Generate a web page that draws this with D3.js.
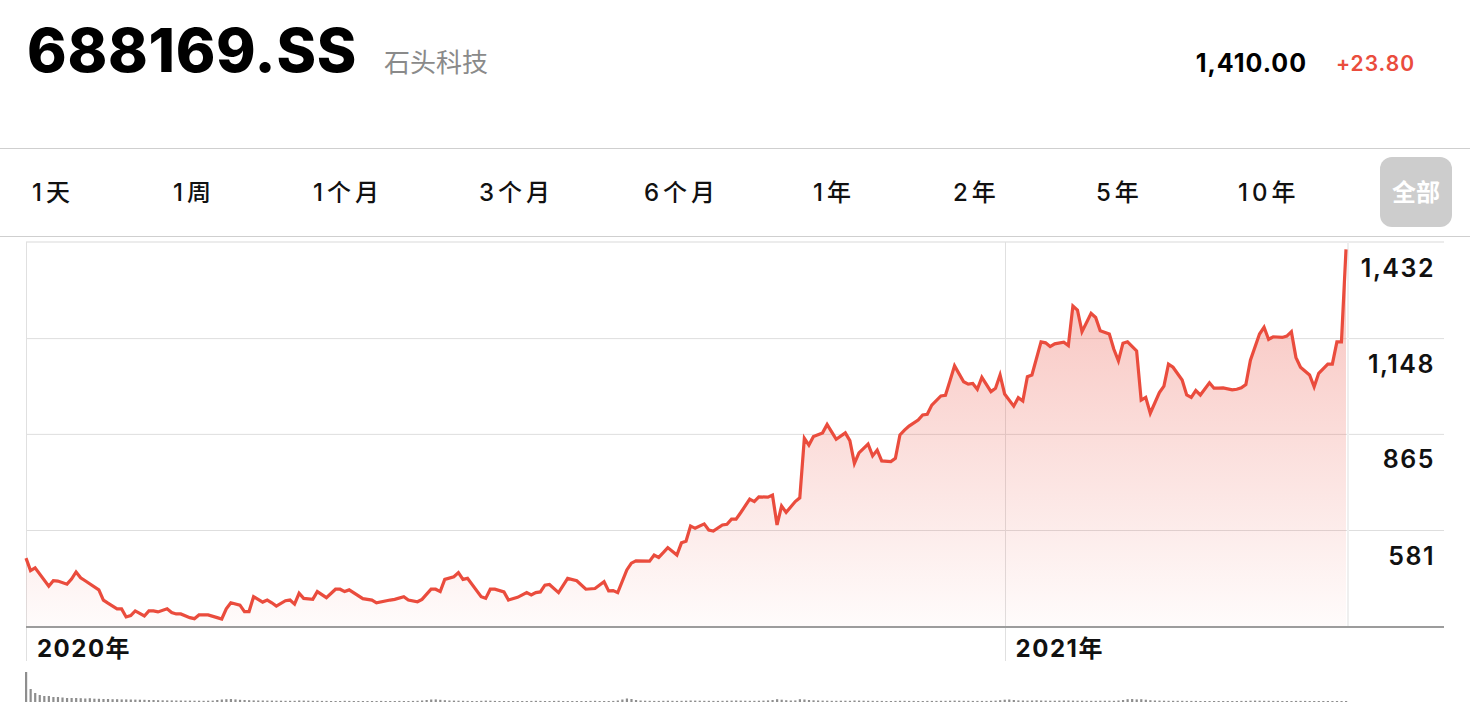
<!DOCTYPE html>
<html>
<head>
<meta charset="utf-8">
<script src="https://cdn.jsdelivr.net/npm/d3@7"></script>
<style>
  html, body { margin: 0; padding: 0; background: #fff; }
  svg { display: block; }
  text { font-family: Inter, "Noto Sans CJK SC", sans-serif; }
</style>
</head>
<body>
<div id="chart"></div>
<script>
// header + range tabs
const ticker = "688169.SS";
const companyName = "石头科技";
const lastPrice = "1,410.00";
const priceChange = "+23.80";
const rangeTabs = ["1天", "1周", "1个月", "3个月", "6个月", "1年", "2年", "5年", "10年"];
const activeTab = "全部";

// axis stuff
const yTicks = [581, 865, 1148, 1432];
const yearMarks = [[0, "2020年"], [215, "2021年"]];
const lastSession = 290;

// [trading session, close]
const closes = [
  [0,498],[1,461],[2,469],[5,415],[6,431],[7,430],[9,421],[10,436],[11,457],[12,440],
  [13,431],[16,404],[17,374],[18,365],[20,348],[21,348],[22,324],[23,328],[24,342],[26,327],
  [27,342],[28,342],[29,339],[31,348],[32,337],[33,333],[34,333],[36,322],[37,319],[38,330],
  [40,330],[42,322],[43,318],[44,348],[45,366],[47,359],[48,340],[49,340],[50,384],[52,368],
  [53,374],[54,366],[55,356],[57,372],[58,374],[59,362],[60,394],[61,379],[63,376],[64,399],
  [66,381],[68,406],[69,406],[70,399],[71,404],[74,378],[76,374],[77,366],[80,374],[81,376],
  [83,384],[84,374],[86,369],[87,376],[89,406],[90,406],[91,399],[92,435],[94,443],[95,455],
  [96,435],[97,438],[100,384],[101,379],[102,406],[103,406],[105,398],[106,374],[108,382],[110,396],
  [111,389],[112,396],[113,398],[114,418],[115,420],[117,396],[119,438],[121,431],[123,406],[125,408],
  [127,428],[128,401],[129,402],[130,396],[132,463],[133,483],[134,490],[137,489],[138,507],[139,500],
  [140,514],[141,529],[143,507],[144,543],[145,548],[146,593],[147,586],[149,599],[150,581],[151,578],
  [153,596],[154,598],[155,613],[156,613],[157,632],[159,672],[160,665],[161,679],[163,678],[164,684],
  [165,596],[166,652],[167,633],[169,665],[170,676],[171,852],[172,832],[173,857],[175,868],[176,893],
  [177,871],[178,849],[180,868],[181,845],[182,778],[183,809],[185,835],[186,800],[187,817],[188,785],
  [190,783],[191,793],[192,862],[193,876],[194,888],[196,906],[197,921],[198,923],[199,950],[201,977],
  [202,979],[203,1022],[204,1066],[206,1019],[207,1012],[208,1014],[209,997],[210,1032],[212,990],[213,1000],
  [214,1039],[215,983],[217,947],[218,972],[219,962],[220,1034],[221,1039],[223,1137],[224,1134],[225,1123],
  [226,1131],[228,1136],[229,1126],[230,1243],[231,1231],[232,1167],[234,1221],[235,1209],[236,1170],[238,1160],
  [239,1115],[240,1081],[241,1133],[242,1137],[244,1110],[245,965],[246,973],[247,926],[249,987],[250,1006],
  [251,1071],[252,1062],[254,1024],[255,980],[256,973],[257,993],[258,980],[260,1016],[261,1000],[262,1000],
  [263,1001],[265,995],[266,997],[267,1001],[268,1011],[269,1083],[271,1160],[272,1180],[273,1144],[274,1152],
  [276,1150],[277,1154],[278,1167],[279,1091],[280,1062],[282,1039],[283,1004],[284,1044],[286,1071],[287,1071],
  [288,1137],[289,1137],[290,1410]
];

// daily volume, one per session (rough)
const volumes = [
  3000,1300,900,700,600,600,500,500,450,400,
  400,400,380,350,380,330,320,300,300,280,
  280,260,260,250,240,230,220,200,200,180,
  170,160,160,150,150,140,140,130,130,120,
  130,140,200,250,280,300,260,220,200,180,
  160,150,150,140,140,130,130,120,120,120,
  150,140,130,120,120,110,110,100,100,100,
  120,110,100,100,100,100,100,100,110,100,
  100,100,110,100,100,110,120,150,200,250,
  260,220,180,150,140,130,120,110,100,100,
  120,140,130,110,100,100,100,100,100,100,
  100,110,120,110,100,100,110,120,100,100,
  100,100,100,100,110,120,100,100,100,110,
  150,250,350,300,200,150,130,120,110,110,
  120,130,120,110,120,130,150,140,130,120,
  120,110,110,120,130,140,150,140,130,120,
  120,130,140,160,200,280,230,180,150,160,
  280,250,200,170,150,140,130,120,120,130,
  130,120,150,140,130,120,120,110,110,100,
  100,110,120,120,110,110,100,100,110,110,
  110,120,120,130,140,130,120,120,110,110,
  110,110,120,140,180,230,250,200,160,150,
  140,150,170,150,140,130,130,140,150,150,
  140,130,130,120,120,120,130,130,130,120,
  150,200,280,300,260,280,230,180,150,140,
  130,120,120,120,120,110,110,110,100,100,
  100,100,100,60,60,60,100,110,110,130,
  140,130,120,120,110,110,100,100,100,110,
  110,110,100,100,100,100,60,60,60,60,
  100
];

// layout
const W = 1470, H = 716;
const plot = { left: 26, right: 1444, top: 242, bottom: 627 };
const tabLeft = [32, 173, 313, 479, 644, 813, 953, 1096, 1238];
const red = "#ea4c3d";

const svg = d3.select("#chart").append("svg")
  .attr("width", W)
  .attr("height", H);

// ---- header
svg.append("text")
  .attr("x", 27).attr("y", 72)
  .style("font-size", "60px").style("font-weight", 800)
  .style("letter-spacing", "0.7px")
  .text(ticker);

svg.append("text")
  .attr("x", 384).attr("y", 72)
  .style("font-size", "26px").style("fill", "#8a8a8a")
  .text(companyName);

svg.append("text")
  .attr("x", 1307).attr("y", 72)
  .attr("text-anchor", "end")
  .style("font-size", "25px").style("font-weight", 700)
  .style("letter-spacing", "1px")
  .text(lastPrice);

svg.append("text")
  .attr("x", 1336).attr("y", 71)
  .style("font-size", "21px").style("font-weight", 600)
  .style("letter-spacing", "1px")
  .style("fill", red)
  .text(priceChange);

// separators
[148, 236].forEach(y => {
  svg.append("line")
    .attr("x1", 0).attr("x2", W)
    .attr("y1", y + 0.5).attr("y2", y + 0.5)
    .style("stroke", "#cfcfcf");
});

// ---- tabs
svg.append("g").selectAll("text")
  .data(rangeTabs)
  .join("text")
  .attr("x", (d, i) => tabLeft[i])
  .attr("y", 201)
  .style("font-size", "24px").style("font-weight", 500)
  .style("letter-spacing", "4px")
  .style("fill", "#111")
  .text(d => d);

svg.append("rect")
  .attr("x", 1380).attr("y", 157)
  .attr("width", 72).attr("height", 70)
  .attr("rx", 12)
  .style("fill", "#cdcdcd");
svg.append("text")
  .attr("x", 1416).attr("y", 201)
  .attr("text-anchor", "middle")
  .style("font-size", "24px").style("font-weight", 700)
  .style("fill", "#fff")
  .text(activeTab);

// ---- scales
const xScale = d3.scaleLinear()
  .domain([0, lastSession])
  .range([26, 1346]);

const yScale = d3.scaleLinear()
  .domain([yTicks[0], yTicks[yTicks.length - 1]])
  .range([530, plot.top]);

const volScale = d3.scaleLinear()
  .domain([0, d3.max(volumes)])
  .range([0, 30]);

// gradient under the line
const grad = svg.append("defs").append("linearGradient")
  .attr("id", "fillGrad")
  .attr("gradientUnits", "userSpaceOnUse")
  .attr("x1", 0).attr("x2", 0)
  .attr("y1", plot.top).attr("y2", plot.bottom);
grad.append("stop").attr("offset", 0).attr("stop-color", red).attr("stop-opacity", 0.36);
grad.append("stop").attr("offset", 1).attr("stop-color", red).attr("stop-opacity", 0.02);

// gridlines (tick lines only)
const grid = svg.append("g")
  .attr("transform", "translate(" + plot.left + ",0)")
  .call(d3.axisRight(yScale)
    .tickValues(yTicks.slice(0, 3))
    .tickSize(plot.right - plot.left)
    .tickFormat(""));
grid.select(".domain").remove();
grid.selectAll("line").style("stroke", "#dedede");

// top border
svg.append("line")
  .attr("x1", plot.left).attr("x2", plot.right)
  .attr("y1", plot.top).attr("y2", plot.top)
  .style("stroke", "#ececec").style("stroke-width", 2);

// year dividers
svg.append("g").selectAll("line")
  .data(yearMarks)
  .join("line")
  .attr("x1", d => Math.round(xScale(d[0])) + 0.5)
  .attr("x2", d => Math.round(xScale(d[0])) + 0.5)
  .attr("y1", plot.top).attr("y2", 661)
  .style("stroke", "#e0e0e0");

// end of data marker
svg.append("line")
  .attr("x1", xScale(lastSession) + 2).attr("x2", xScale(lastSession) + 2)
  .attr("y1", plot.top).attr("y2", plot.bottom)
  .style("stroke", "#efefef").style("stroke-width", 2);

// area + line
const area = d3.area()
  .x(d => xScale(d[0]))
  .y0(plot.bottom)
  .y1(d => yScale(d[1]));

const line = d3.line()
  .x(d => xScale(d[0]))
  .y(d => yScale(d[1]));

svg.append("path")
  .datum(closes)
  .attr("d", area)
  .style("fill", "url(#fillGrad)");

svg.append("path")
  .datum(closes)
  .attr("d", line)
  .style("fill", "none")
  .style("stroke", red)
  .style("stroke-width", 3.2)
  .style("stroke-linejoin", "miter");

// bottom axis line
svg.append("line")
  .attr("x1", plot.left).attr("x2", plot.right)
  .attr("y1", plot.bottom).attr("y2", plot.bottom)
  .style("stroke", "#9c9c9c").style("stroke-width", 2);

// y labels sit just under their gridline
const yAxis = svg.append("g")
  .attr("transform", "translate(1435,0)")
  .call(d3.axisLeft(yScale)
    .tickValues(yTicks)
    .tickSize(0)
    .tickPadding(0)
    .tickFormat(d3.format(",")));
yAxis.select(".domain").remove();
yAxis.selectAll("text")
  .attr("y", 26)
  .style("font-family", "Inter, sans-serif")
  .style("font-size", "25px")
  .style("font-weight", 600)
  .style("letter-spacing", "1.5px")
  .style("fill", "#111");

// year labels
svg.append("g").selectAll("text")
  .data(yearMarks)
  .join("text")
  .attr("x", d => xScale(d[0]) + 11)
  .attr("y", 657)
  .style("font-size", "24px").style("font-weight", 700)
  .style("letter-spacing", "1.5px")
  .style("fill", "#111")
  .text(d => d[1]);

// volume strip
svg.append("g").selectAll("rect")
  .data(volumes)
  .join("rect")
  .attr("x", (d, i) => xScale(i) - 1)
  .attr("y", d => 702 - Math.max(1, volScale(d)))
  .attr("width", 2.2)
  .attr("height", d => Math.max(1, volScale(d)))
  .style("fill", "#8e8e8e");
</script>
</body>
</html>
